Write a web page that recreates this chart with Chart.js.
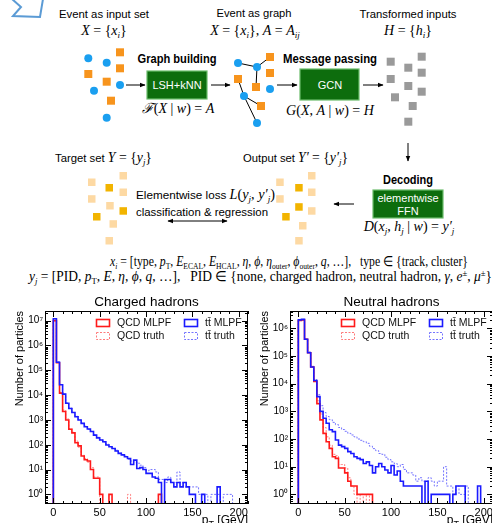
<!DOCTYPE html>
<html>
<head>
<meta charset="utf-8">
<script src="https://cdn.jsdelivr.net/npm/chart.js@4.4.0/dist/chart.umd.min.js"></script>
<style>
  html, body { margin: 0; padding: 0; background: #fff; overflow: hidden; }
  #page { position: relative; width: 492px; height: 523px; overflow: hidden; background: #fff; }
  #diagram { position: absolute; left: 0; top: 0; }
  .sans { font-family: "Liberation Sans", Arial, Helvetica, sans-serif; }
  .serif { font-family: "Liberation Serif", "Times New Roman", serif; }
  .it { font-style: italic; }
  .sb { font-size: 9px; }
  .cv { position: absolute; top: 293px; }
</style>
</head>
<body>
<div id="page">
<svg id="diagram" width="492" height="300" xmlns="http://www.w3.org/2000/svg">
  <defs>
    <marker id="ah" viewBox="0 0 10 10" refX="9" refY="5" markerWidth="6" markerHeight="6" orient="auto-start-reverse">
      <path d="M0,1 L10,5 L0,9 z" fill="#000"/>
    </marker>
  </defs>

  <!-- chevron cut at the top -->
  <polyline points="12,-1 21,7 13,16 40,17 43,-1" fill="none" stroke="#5b9bd5" stroke-width="2"/>

  <!-- input set -->
  <text x="104" y="18" class="sans" font-size="11.5" text-anchor="middle" textLength="90" lengthAdjust="spacingAndGlyphs">Event as input set</text>
  <text x="104" y="35" class="serif" font-size="14" text-anchor="middle"><tspan class="it">X</tspan> = {<tspan class="it">x</tspan><tspan class="it sb" dy="3">i</tspan><tspan dy="-3">}</tspan></text>
  <g fill="#f7941d">
    <rect x="116" y="48.3" width="8" height="8"/>
    <rect x="84.3" y="70" width="8" height="8"/>
    <rect x="116" y="64.3" width="8" height="8"/>
    <rect x="102.7" y="77.7" width="8" height="8"/>
    <rect x="107" y="96.7" width="8" height="8"/>
  </g>
  <g fill="#1a9ff0">
    <circle cx="88.3" cy="58.3" r="4"/>
    <circle cx="106.7" cy="62.7" r="4"/>
    <circle cx="94" cy="90.7" r="4"/>
    <circle cx="120" cy="85" r="4"/>
    <circle cx="106.7" cy="117.7" r="4"/>
  </g>
  <line x1="126" y1="85" x2="145" y2="85" stroke="#000" stroke-width="1" marker-end="url(#ah)"/>

  <!-- graph building -->
  <text x="177" y="63" class="sans" font-size="12" font-weight="bold" text-anchor="middle" textLength="79" lengthAdjust="spacingAndGlyphs">Graph building</text>
  <rect x="147" y="71" width="60" height="28" fill="#0d6d0d" stroke="#6cbd6c" stroke-width="1.2"/>
  <text x="177" y="89" class="sans" font-size="11" fill="#fff" text-anchor="middle">LSH+kNN</text>
  <text x="178" y="113" class="serif" font-size="14" text-anchor="middle"><tspan class="it">ℱ</tspan>(<tspan class="it">X</tspan> | <tspan class="it">w</tspan>) = <tspan class="it">A</tspan></text>
  <line x1="211" y1="85" x2="230" y2="85" stroke="#000" stroke-width="1" marker-end="url(#ah)"/>

  <!-- event as graph -->
  <text x="254" y="17" class="sans" font-size="11.5" text-anchor="middle" textLength="75" lengthAdjust="spacingAndGlyphs">Event as graph</text>
  <text x="255" y="35" class="serif" font-size="14" text-anchor="middle"><tspan class="it">X</tspan> = {<tspan class="it">x</tspan><tspan class="it sb" dy="3">i</tspan><tspan dy="-3">}, </tspan><tspan class="it">A</tspan> = <tspan class="it">A</tspan><tspan class="it sb" dy="3">ij</tspan></text>
  <g stroke="#000" stroke-width="1">
    <line x1="238" y1="63" x2="257" y2="67"/>
    <line x1="257" y1="67" x2="270" y2="57"/>
    <line x1="257" y1="67" x2="256" y2="87"/>
    <line x1="238" y1="79" x2="244" y2="96"/>
    <line x1="244" y1="96" x2="261" y2="106"/>
    <line x1="244" y1="96" x2="257" y2="123"/>
  </g>
  <g fill="#f7941d">
    <rect x="234" y="75" width="8" height="8"/>
    <rect x="266" y="53" width="8" height="8"/>
    <rect x="266" y="69" width="8" height="8"/>
    <rect x="252" y="83" width="8" height="8"/>
    <rect x="257" y="102" width="8" height="8"/>
  </g>
  <g fill="#1a9ff0">
    <circle cx="238" cy="63" r="4"/>
    <circle cx="257" cy="67" r="4"/>
    <circle cx="244" cy="96" r="4"/>
    <circle cx="270" cy="89" r="4"/>
    <circle cx="257" cy="123" r="4"/>
  </g>
  <line x1="277" y1="85" x2="297" y2="85" stroke="#000" stroke-width="1" marker-end="url(#ah)"/>

  <!-- message passing -->
  <text x="330" y="63" class="sans" font-size="12" font-weight="bold" text-anchor="middle" textLength="94" lengthAdjust="spacingAndGlyphs">Message passing</text>
  <rect x="300" y="69" width="59" height="31" fill="#0d6d0d" stroke="#6cbd6c" stroke-width="1.2"/>
  <text x="330" y="89" class="sans" font-size="11" fill="#fff" text-anchor="middle">GCN</text>
  <text x="330" y="115" class="serif" font-size="14" text-anchor="middle"><tspan class="it">G</tspan>(<tspan class="it">X</tspan>, <tspan class="it">A</tspan> | <tspan class="it">w</tspan>) = <tspan class="it">H</tspan></text>
  <line x1="363" y1="85" x2="383" y2="85" stroke="#000" stroke-width="1" marker-end="url(#ah)"/>

  <!-- transformed inputs -->
  <text x="408" y="18" class="sans" font-size="11.5" text-anchor="middle" textLength="97" lengthAdjust="spacingAndGlyphs">Transformed inputs</text>
  <text x="408" y="35" class="serif" font-size="14" text-anchor="middle"><tspan class="it">H</tspan> = {<tspan class="it">h</tspan><tspan class="it sb" dy="3">i</tspan><tspan dy="-3">}</tspan></text>
  <g fill="#9a9a9a">
    <rect x="386.7" y="57.7" width="8" height="8"/>
    <rect x="386.7" y="75" width="8" height="8"/>
    <rect x="391" y="93.3" width="8" height="8"/>
    <rect x="404.3" y="63.7" width="8" height="8"/>
    <rect x="404.3" y="82" width="8" height="8"/>
    <rect x="408.7" y="102" width="8" height="8"/>
    <rect x="404.3" y="117.7" width="8" height="8"/>
    <rect x="417.7" y="52.7" width="8" height="8"/>
    <rect x="417.7" y="68.7" width="8" height="8"/>
    <rect x="417.7" y="87.7" width="8" height="8"/>
  </g>
  <line x1="408" y1="143" x2="408" y2="161" stroke="#000" stroke-width="1" marker-end="url(#ah)"/>

  <!-- target / output sets -->
  <text x="55" y="162" textLength="97" lengthAdjust="spacingAndGlyphs"><tspan class="sans" font-size="11.5">Target set </tspan><tspan class="serif it" font-size="14">Y</tspan><tspan class="serif" font-size="14"> = {</tspan><tspan class="serif it" font-size="14">y</tspan><tspan class="serif it sb" dy="3">j</tspan><tspan class="serif" font-size="14" dy="-3">}</tspan></text>
  <text x="243" y="162" textLength="105" lengthAdjust="spacingAndGlyphs"><tspan class="sans" font-size="11.5">Output set </tspan><tspan class="serif it" font-size="14">Y′</tspan><tspan class="serif" font-size="14"> = {</tspan><tspan class="serif it" font-size="14">y′</tspan><tspan class="serif it sb" dy="3">j</tspan><tspan class="serif" font-size="14" dy="-3">}</tspan></text>

  <g fill="#fdd9a3">
    <rect x="88" y="178.5" width="7.5" height="7.5"/>
    <rect x="88" y="195.2" width="7.5" height="7.5"/>
    <rect x="106.2" y="202" width="7.5" height="7.5"/>
    <rect x="119.5" y="172" width="7.5" height="7.5"/>
    <rect x="119.5" y="188.5" width="7.5" height="7.5"/>
    <rect x="109.5" y="220.2" width="7.5" height="7.5"/>
    <rect x="105.5" y="237" width="7.5" height="7.5"/>
    <rect x="276.2" y="178.5" width="7.5" height="7.5"/>
    <rect x="276.2" y="195.2" width="7.5" height="7.5"/>
    <rect x="308" y="172" width="7.5" height="7.5"/>
    <rect x="308" y="188.5" width="7.5" height="7.5"/>
    <rect x="308" y="207.2" width="7.5" height="7.5"/>
    <rect x="299" y="222" width="7.5" height="7.5"/>
    <rect x="295.2" y="237" width="7.5" height="7.5"/>
  </g>
  <g fill="#f2b400">
    <rect x="105.5" y="184" width="7.5" height="7.5"/>
    <rect x="119.5" y="207.2" width="7.5" height="7.5"/>
    <rect x="93" y="213" width="7.5" height="7.5"/>
    <rect x="295.2" y="184" width="7.5" height="7.5"/>
    <rect x="295.2" y="203.2" width="7.5" height="7.5"/>
    <rect x="282.2" y="213" width="7.5" height="7.5"/>
  </g>

  <text x="136" y="199" textLength="139" lengthAdjust="spacingAndGlyphs"><tspan class="sans" font-size="11.5">Elementwise loss </tspan><tspan class="serif it" font-size="14">L</tspan><tspan class="serif" font-size="14">(</tspan><tspan class="serif it" font-size="14">y</tspan><tspan class="serif it sb" dy="3">j</tspan><tspan class="serif" font-size="14" dy="-3">, </tspan><tspan class="serif it" font-size="14">y′</tspan><tspan class="serif it sb" dy="3">j</tspan><tspan class="serif" font-size="14" dy="-3">)</tspan></text>
  <text x="136" y="216" class="sans" font-size="11.5" textLength="132" lengthAdjust="spacingAndGlyphs">classification &amp; regression</text>
  <line x1="168" y1="221" x2="227" y2="221" stroke="#000" stroke-width="1" marker-start="url(#ah)" marker-end="url(#ah)"/>

  <!-- decoding -->
  <text x="408" y="184" class="sans" font-size="12" font-weight="bold" text-anchor="middle" textLength="50" lengthAdjust="spacingAndGlyphs">Decoding</text>
  <rect x="373" y="190" width="70" height="28" fill="#0d6d0d" stroke="#6cbd6c" stroke-width="1.2"/>
  <text x="408" y="202" class="sans" font-size="11" fill="#fff" text-anchor="middle">elementwise</text>
  <text x="408" y="215" class="sans" font-size="11" fill="#fff" text-anchor="middle">FFN</text>
  <text x="409" y="231" class="serif" font-size="14" text-anchor="middle"><tspan class="it">D</tspan>(<tspan class="it">x</tspan><tspan class="it sb" dy="3">j</tspan><tspan dy="-3">, </tspan><tspan class="it">h</tspan><tspan class="it sb" dy="3">j</tspan><tspan dy="-3"> | </tspan><tspan class="it">w</tspan>) = <tspan class="it">y′</tspan><tspan class="it sb" dy="3">j</tspan></text>
  <line x1="354" y1="204" x2="334" y2="204" stroke="#000" stroke-width="1" marker-end="url(#ah)"/>

  <!-- feature definitions -->
  <text x="110" y="266" class="serif" font-size="14" style="white-space:pre" textLength="358" lengthAdjust="spacingAndGlyphs"><tspan class="it">x</tspan><tspan class="it sb" dy="3">i</tspan><tspan dy="-3"> = [type, </tspan><tspan class="it">p</tspan><tspan class="sb" dy="3">T</tspan><tspan dy="-3">, </tspan><tspan class="it">E</tspan><tspan class="sb" dy="3">ECAL</tspan><tspan dy="-3">, </tspan><tspan class="it">E</tspan><tspan class="sb" dy="3">HCAL</tspan><tspan dy="-3">, </tspan><tspan class="it">η</tspan>, <tspan class="it">ϕ</tspan>, <tspan class="it">η</tspan><tspan class="sb" dy="3">outer</tspan><tspan dy="-3">, </tspan><tspan class="it">ϕ</tspan><tspan class="sb" dy="3">outer</tspan><tspan dy="-3">, </tspan><tspan class="it">q</tspan>, …],   type ∈ {track, cluster}</text>
  <text x="29" y="281" class="serif" font-size="14" style="white-space:pre" textLength="463" lengthAdjust="spacingAndGlyphs"><tspan class="it">y</tspan><tspan class="it sb" dy="3">j</tspan><tspan dy="-3"> = [PID, </tspan><tspan class="it">p</tspan><tspan class="sb" dy="3">T</tspan><tspan dy="-3">, </tspan><tspan class="it">E</tspan>, <tspan class="it">η</tspan>, <tspan class="it">ϕ</tspan>, <tspan class="it">q</tspan>, …],   PID ∈ {none, charged hadron, neutral hadron, <tspan class="it">γ</tspan>, <tspan class="it">e</tspan><tspan class="sb" dy="-5">±</tspan><tspan dy="5">, </tspan><tspan class="it">μ</tspan><tspan class="sb" dy="-5">±</tspan><tspan dy="5">}</tspan></text>
</svg>

<canvas id="chCharged" class="cv" style="left:0px" width="250" height="240"></canvas>
<canvas id="chNeutral" class="cv" style="left:245px" width="250" height="240"></canvas>
</div>

<script>
// bin edges of the pT histograms (GeV)
const binEdges = [0, 3.33, 6.67, 10, 13.33, 16.67, 20, 23.33, 26.67, 30, 33.33, 36.67,
  40, 43.33, 46.67, 50, 53.33, 56.67, 60, 63.33, 66.67, 70, 73.33, 76.67,
  80, 83.33, 86.67, 90, 93.33, 96.67, 100, 103.33, 106.67, 110, 113.33, 116.67,
  120, 123.33, 126.67, 130, 133.33, 136.67, 140, 143.33, 146.67, 150, 153.33, 156.67,
  160, 163.33, 166.67, 170, 173.33, 176.67, 180, 183.33, 186.67, 190, 193.33, 196.67, 200];

// charged hadrons, counts per bin
const chargedQcdMlpf = [1.0e7, 2.0e5, 1.2e4, 2.2e3, 1.0e3, 420, 300, 120, 90, 35,
  25, 22, 10, 4.5, 4.5, 1, 0, 0, 1, 0,
  0, 0, 0, 0, 0, 0, 0, 0, 0, 0,
  0, 0, 0, 0, 1, 0, 0, 0, 0, 0,
  0, 0, 0, 0, 0, 0, 0, 0, 0, 0,
  0, 0, 0, 0, 0, 0, 0, 0, 0, 0];
const chargedQcdTruth = [1.0e7, 2.1e5, 1.3e4, 2.5e3, 1.1e3, 450, 320, 140, 80, 38,
  28, 20, 12, 5, 5, 0, 0, 0, 0, 0,
  0, 0, 0, 0, 1, 0, 0, 0, 0, 0,
  0, 0, 0, 0, 1, 0, 0, 0, 0, 0,
  0, 0, 0, 0, 0, 0, 0, 0, 0, 0,
  0, 0, 0, 0, 0, 0, 0, 0, 0, 0];
const chargedTtbarMlpf = [1.2e7, 2.1e5, 2.6e4, 1.1e4, 4.7e3, 2.9e3, 2.0e3, 1.35e3, 1.0e3, 730,
  530, 430, 340, 245, 190, 155, 133, 98, 83, 71,
  56, 45, 39, 33, 28, 16, 24, 11, 12, 10,
  7, 7, 5, 4.5, 3, 0, 4, 4, 3, 2,
  3, 2, 3, 2, 1, 1, 0, 0, 1, 0,
  0, 0, 0, 2, 0, 0, 0, 0, 0, 0];
const chargedTtbarTruth = [1.2e7, 2.2e5, 2.7e4, 1.1e4, 4.9e3, 3.0e3, 2.0e3, 1.4e3, 1.0e3, 750,
  560, 420, 350, 260, 200, 160, 130, 105, 85, 70,
  60, 48, 40, 35, 26, 22, 20, 18, 15, 12,
  9, 10, 10, 8, 4, 4, 3, 5, 3, 3,
  8, 3, 2, 2, 2, 2, 2, 1, 1, 1,
  0, 1, 1, 1, 0, 1, 1, 1, 0, 0];

// neutral hadrons, counts per bin
const neutralQcdMlpf = [1.9e6, 2.0e6, 4.0e5, 1.3e5, 4.0e4, 1.2e4, 1.9e3, 490, 160, 80,
  46, 23, 20, 9, 9, 6, 3, 2, 2, 1,
  1, 1, 1, 1, 0, 0, 0, 0, 0, 0,
  0, 0, 0, 0, 0, 0, 0, 0, 0, 0,
  0, 0, 0, 0, 0, 0, 0, 0, 0, 0,
  0, 0, 0, 0, 0, 0, 0, 0, 0, 0];
const neutralQcdTruth = [1.9e6, 2.0e6, 4.1e5, 1.35e5, 4.2e4, 1.3e4, 2.4e3, 800, 260, 120,
  60, 28, 25, 12, 12, 9, 4, 2, 1, 0,
  1, 0, 1, 0, 0, 0, 0, 0, 0, 0,
  0, 0, 0, 0, 0, 0, 0, 0, 0, 0,
  0, 0, 0, 0, 0, 0, 0, 0, 0, 0,
  0, 0, 0, 0, 0, 0, 0, 0, 0, 0];
const neutralTtbarMlpf = [2.0e6, 2.1e6, 4.0e5, 1.3e5, 4.0e4, 1.3e4, 3.4e3, 1.0e3, 560, 370,
  215, 185, 92, 60, 53, 46, 35, 30, 23, 20,
  18, 13, 15, 11, 6, 10, 13, 10, 7.6, 6,
  11, 5, 7, 3, 2, 2, 2, 2, 2, 2,
  0, 3, 0, 1, 1, 1, 1, 1, 1, 0,
  1, 2, 2, 2, 0, 0, 0, 0, 2, 0];
const neutralTtbarTruth = [2.0e6, 2.1e6, 4.1e5, 1.4e5, 4.2e4, 1.4e4, 4.0e3, 1.6e3, 900, 650,
  500, 400, 330, 260, 220, 190, 160, 140, 120, 100,
  90, 80, 70, 55, 45, 38, 30, 28, 22, 18,
  15, 13, 10, 12, 8, 6, 6, 5, 3, 4,
  3, 3, 4, 3, 2, 3, 3, 10, 2, 2,
  1, 2, 1, 1, 2, 0, 0, 0, 0, 0];

const seriesLabels = ['QCD MLPF', 'QCD truth', 'tt\u0304 MLPF', 'tt\u0304 truth'];
const xTicks = [0, 50, 100, 150, 200];
const chargedYTicks = [1, 10, 100, 1e3, 1e4, 1e5, 1e6, 1e7];
const neutralYTicks = [1, 10, 100, 1e3, 1e4, 1e5, 1e6];

const SANS = '"Liberation Sans", Arial, Helvetica, sans-serif';
const EMPTY = 1e-3; // empty bins fall below the axis and get clipped
const SUP = ['⁰', '¹', '²', '³', '⁴', '⁵', '⁶', '⁷', '⁸', '⁹'];

// turn bin counts into a step outline
function histPoints(counts) {
  const pts = [{x: binEdges[0], y: EMPTY}];
  counts.forEach(function (c, i) {
    const v = c > 0 ? c : EMPTY;
    pts.push({x: binEdges[i], y: v}, {x: binEdges[i + 1], y: v});
  });
  pts.push({x: binEdges[binEdges.length - 1], y: EMPTY});
  return pts;
}

// frame with inward ticks, title, legend and axis titles (ROOT style)
const frameDecor = {
  id: 'frameDecor',
  afterDraw(chart, args, opts) {
    const {ctx, chartArea: a, scales: {x, y}} = chart;
    ctx.save();
    ctx.strokeStyle = '#000';
    ctx.lineWidth = 1;
    ctx.strokeRect(Math.round(a.left) + 0.5, Math.round(a.top) + 0.5, Math.round(a.width) - 1, Math.round(a.height) - 1);

    ctx.beginPath();
    for (let v = 0; v <= x.max; v += 10) {
      const px = Math.round(x.getPixelForValue(v)) + 0.5;
      const len = xTicks.includes(v) ? 6 : 3;
      ctx.moveTo(px, a.bottom); ctx.lineTo(px, a.bottom - len);
      ctx.moveTo(px, a.top); ctx.lineTo(px, a.top + len);
    }
    const kLo = Math.floor(Math.log10(y.min)), kHi = Math.ceil(Math.log10(y.max));
    for (let k = kLo; k <= kHi; k++) {
      for (let m = 1; m < 10; m++) {
        const v = m * Math.pow(10, k);
        if (v < y.min || v > y.max) continue;
        const py = Math.round(y.getPixelForValue(v)) + 0.5;
        const len = m === 1 ? 6 : 3;
        ctx.moveTo(a.left, py); ctx.lineTo(a.left + len, py);
        ctx.moveTo(a.right, py); ctx.lineTo(a.right - len, py);
      }
    }
    ctx.stroke();

    // title
    ctx.fillStyle = '#000';
    ctx.font = '13.5px ' + SANS;
    ctx.textAlign = 'center';
    ctx.textBaseline = 'middle';
    ctx.fillText(opts.title, (a.left + a.right) / 2, a.top - 8.5);

    // y title
    ctx.save();
    ctx.translate(20, a.top);
    ctx.rotate(-Math.PI / 2);
    ctx.font = '11px ' + SANS;
    ctx.textAlign = 'right';
    ctx.fillText('Number of particles', 0, 0);
    ctx.restore();

    // x title (partly below the page edge)
    ctx.font = '12px ' + SANS;
    ctx.textAlign = 'right';
    ctx.textBaseline = 'alphabetic';
    const gev = ' [GeV]';
    const gw = ctx.measureText(gev).width;
    ctx.fillText(gev, a.right, a.bottom + 20);
    ctx.font = '9px ' + SANS;
    const tw = ctx.measureText('T').width;
    ctx.fillText('T', a.right - gw, a.bottom + 23);
    ctx.font = '12px ' + SANS;
    ctx.fillText('p', a.right - gw - tw, a.bottom + 20);

    // legend inside the frame
    const slots = [[51, 12], [51, 25], [139, 12], [139, 25]];
    const order = [1, 3, 0, 2]; // dataset index for each slot
    ctx.font = '10.5px ' + SANS;
    ctx.textAlign = 'left';
    ctx.textBaseline = 'middle';
    slots.forEach(function (s, i) {
      const ds = chart.data.datasets[order[i]];
      const bx = a.left + s[0], by = a.top + s[1];
      ctx.save();
      ctx.strokeStyle = ds.borderColor;
      ctx.lineWidth = ds.borderWidth;
      ctx.setLineDash(ds.borderDash || []);
      ctx.strokeRect(bx + 0.5, by - 3.5, 13, 7);
      ctx.restore();
      ctx.fillStyle = '#111';
      ctx.fillText(ds.label, bx + 21, by);
    });
    ctx.restore();
  }
};

function makeChart(id, title, series, yMin, yMax, yTicks) {
  const styles = [
    {color: '#1a1aff', width: 1.6, dash: []},
    {color: '#ff1a1a', width: 1.6, dash: []},
    {color: '#7474ff', width: 1, dash: [2, 1.5]},
    {color: '#ff7a7a', width: 1, dash: [2, 1.5]}
  ];
  // series order: ttbar MLPF, QCD MLPF, ttbar truth, QCD truth (first one is drawn on top)
  const labels = [seriesLabels[2], seriesLabels[0], seriesLabels[3], seriesLabels[1]];
  return new Chart(document.getElementById(id), {
    type: 'line',
    data: {
      datasets: series.map(function (counts, i) {
        return {
          label: labels[i],
          data: histPoints(counts),
          borderColor: styles[i].color,
          borderWidth: styles[i].width,
          borderDash: styles[i].dash,
          pointRadius: 0,
          fill: false,
          tension: 0
        };
      })
    },
    options: {
      responsive: false,
      animation: false,
      devicePixelRatio: 1,
      events: [],
      layout: {padding: {top: 18, right: 2, left: 0, bottom: 0}},
      plugins: {
        legend: {display: false},
        tooltip: {enabled: false},
        frameDecor: {title: title}
      },
      scales: {
        x: {
          type: 'linear',
          min: -9,
          max: 210,
          grid: {display: false, drawTicks: false},
          border: {display: false},
          afterBuildTicks: function (s) { s.ticks = xTicks.map(function (v) { return {value: v}; }); },
          afterFit: function (s) { s.height = 29; },
          ticks: {color: '#000', padding: 2, maxRotation: 0, autoSkip: false, font: {family: SANS, size: 11}}
        },
        y: {
          type: 'logarithmic',
          min: yMin,
          max: yMax,
          grid: {display: false, drawTicks: false},
          border: {display: false},
          afterBuildTicks: function (s) { s.ticks = yTicks.map(function (v) { return {value: v}; }); },
          afterFit: function (s) { s.width = 45; },
          ticks: {
            color: '#000', padding: 2, autoSkip: false, font: {family: SANS, size: 10},
            callback: function (v) { return '10' + SUP[Math.round(Math.log10(v))]; }
          }
        }
      }
    },
    plugins: [frameDecor]
  });
}

makeChart('chCharged', 'Charged hadrons',
  [chargedTtbarMlpf, chargedQcdMlpf, chargedTtbarTruth, chargedQcdTruth],
  0.41, 2.45e7, chargedYTicks);
makeChart('chNeutral', 'Neutral hadrons',
  [neutralTtbarMlpf, neutralQcdMlpf, neutralTtbarTruth, neutralQcdTruth],
  0.45, 4.2e6, neutralYTicks);
</script>
</body>
</html>
